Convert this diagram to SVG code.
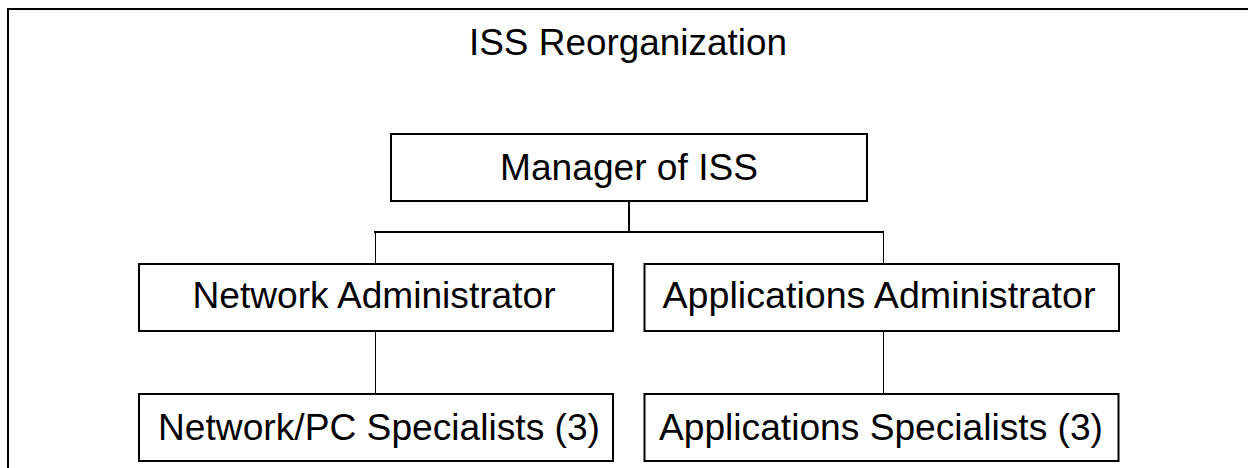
<svg xmlns="http://www.w3.org/2000/svg" width="1248" height="468" viewBox="0 0 1248 468">
  <style>
    .box { fill: #ffffff; stroke: #000000; stroke-width: 2; }
    .lbl { font-family: "Liberation Sans", Arial, sans-serif; font-size: 36px; fill: #000000; text-anchor: middle; }
    .wire { fill: none; stroke: #000000; }
  </style>
  <rect width="1248" height="468" fill="#ffffff"/>
  <!-- outer frame, runs off the right and bottom edges -->
  <path d="M8,470 V9 H1250" fill="none" stroke="#000000" stroke-width="2"/>
  <text class="lbl" x="628" y="55" textLength="318" lengthAdjust="spacingAndGlyphs">ISS Reorganization</text>

  <g id="connectors">
    <path class="wire" stroke-width="2" d="M629,201 V232 M374,232 H884"/>
    <path class="wire" stroke-width="1" d="M375.5,232 V264 M883.5,232 V264 M375.5,331 V394 M883.5,331 V394"/>
  </g>

  <g id="manager">
    <rect class="box" x="391" y="134" width="476" height="67"/>
    <text class="lbl" x="629" y="180" textLength="258" lengthAdjust="spacingAndGlyphs">Manager of ISS</text>
  </g>
  <g id="network-admin">
    <rect class="box" x="139" y="264" width="474" height="67"/>
    <text class="lbl" x="374" y="308" textLength="363" lengthAdjust="spacingAndGlyphs">Network Administrator</text>
  </g>
  <g id="applications-admin">
    <rect class="box" x="644.5" y="264" width="474.5" height="67"/>
    <text class="lbl" x="879" y="308" textLength="433" lengthAdjust="spacingAndGlyphs">Applications Administrator</text>
  </g>
  <g id="network-pc-specialists">
    <rect class="box" x="139" y="394" width="474" height="67"/>
    <text class="lbl" x="379" y="440" textLength="442" lengthAdjust="spacingAndGlyphs">Network/PC Specialists (3)</text>
  </g>
  <g id="applications-specialists">
    <rect class="box" x="644.5" y="394" width="474" height="67"/>
    <text class="lbl" x="881" y="440" textLength="444" lengthAdjust="spacingAndGlyphs">Applications Specialists (3)</text>
  </g>
</svg>
